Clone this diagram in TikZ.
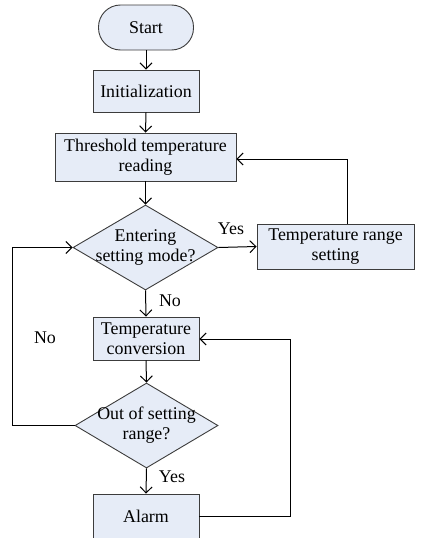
\documentclass[tikz,border=0pt]{standalone}
\usepackage{fontspec}
\setmainfont{Liberation Serif}
\usetikzlibrary{shapes.geometric,arrows.meta}
\definecolor{boxfill}{RGB}{230,236,247}
\definecolor{boxline}{RGB}{60,60,60}
\begin{document}
\begin{tikzpicture}[x=1pt,y=-1pt,
  every node/.style={font=\fontsize{17.9}{20}\selectfont},
  procbox/.style={draw=boxline,fill=boxfill,line width=0.9pt,inner sep=0pt,align=center},
  decbox/.style={diamond,draw=boxline,fill=boxfill,line width=0.9pt,inner sep=0pt,aspect=1.7},
  conn/.style={draw=black,line width=1pt,-{Straight Barb[length=6pt,width=12pt,line width=1pt]}},
  lbl/.style={inner sep=0pt}]
\useasboundingbox (0,0) rectangle (431,538);
\node[procbox,rounded corners=22pt,minimum width=95pt,minimum height=45pt] (start) at (146,27.5) {Start};
\node[procbox,minimum width=106pt,minimum height=42pt] (init) at (146,91) {Initialization};
\node[procbox,minimum width=181pt,minimum height=48pt] (thr) at (145.5,157) {Threshold temperature\\reading};
\node[decbox,minimum width=145pt,minimum height=85pt] (d1) at (145.5,247.5) {};
\node[lbl,align=center] (d1t) at (d1.center) {Entering\\setting mode?};
\node[procbox,minimum width=157pt,minimum height=45pt] (rng) at (335.5,246.5) {Temperature range\\setting};
\node[procbox,minimum width=106pt,minimum height=43pt] (conv) at (146,338.5) {Temperature\\conversion};
\node[decbox,minimum width=143pt,minimum height=85pt] (d2) at (146.5,425.5) {};
\node[lbl,align=center] (d2t) at (d2.center) {Out of setting\\range?};
\node[procbox,minimum width=106pt,minimum height=45pt] (alarm) at (146,516.5) {Alarm};
\node[lbl] (yes1) at (231,229) {Yes};
\node[lbl] (no1) at (170,301) {No};
\node[lbl] (no2) at (45,338) {No};
\node[lbl] (yes2) at (172,477) {Yes};
\coordinate (c1) at (347,159);
\coordinate (c2) at (12,425.5);
\coordinate (c3) at (12,247.5);
\coordinate (c4) at (290,516.7);
\coordinate (c5) at (290,339);
\draw[conn] (start.south) -- (init.north);
\draw[conn] (init.south) -- (thr.north);
\draw[conn] (thr.south) -- (d1.north);
\draw[conn] (d1.east) -- (rng.west);
\draw[conn] (rng.north -| c1) -- (c1) -- (c1 -| thr.east);
\draw[conn] (d1.south) -- (conv.north);
\draw[conn] (conv.south) -- (d2.north);
\draw[conn] (d2.west) -- (c2) -- (c3) -- (d1.west);
\draw[conn] (d2.south) -- (alarm.north);
\draw[conn] (alarm.east |- c4) -- (c4) -- (c5) -- (c5 -| conv.east);
\end{tikzpicture}
\end{document}
